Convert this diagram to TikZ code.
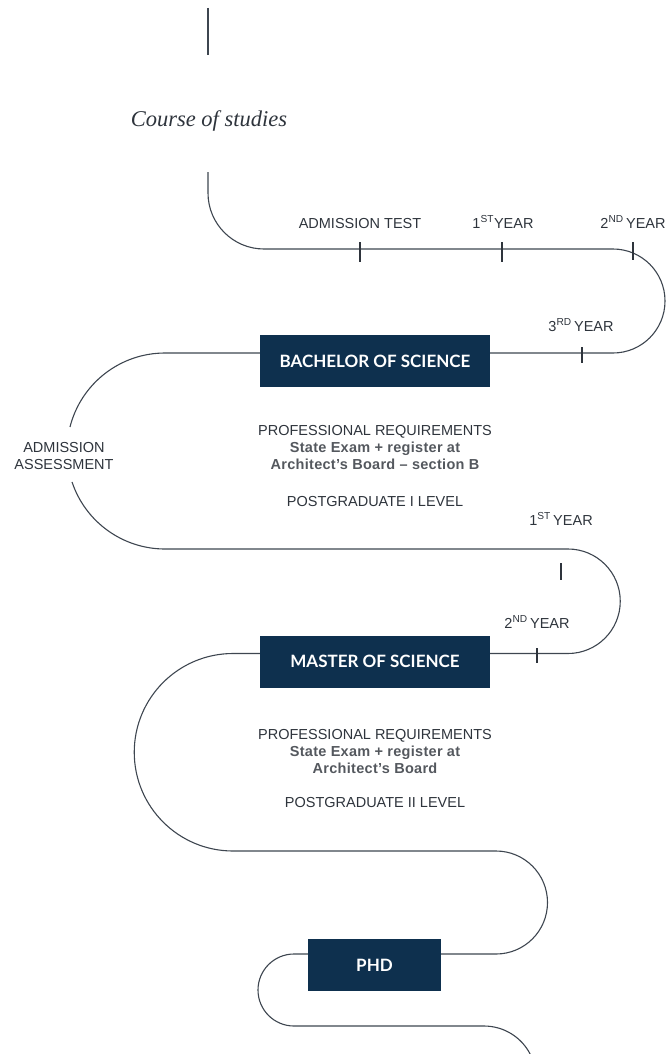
\documentclass[tikz,border=0pt]{standalone}
\usepackage{fontspec}
\setmainfont{Liberation Sans}
\newfontfamily\titlefont{Liberation Serif}
\newfontfamily\boxfont{Lato}
\newfontfamily\reqfont[LetterSpace=2]{Liberation Sans}
\usetikzlibrary{positioning}
\definecolor{pathgray}{RGB}{62,70,80}
\definecolor{boxnavy}{RGB}{14,48,78}
\definecolor{labelgray}{RGB}{46,52,60}
\definecolor{reqgray}{RGB}{84,88,94}

\begin{document}
\begin{tikzpicture}[x=1pt,y=-1pt,
  snake/.style={pathgray,line width=1.1pt},
  tick/.style={labelgray,line width=1.3pt},
  degree/.style={fill=boxnavy,text=white,minimum height=52pt,inner sep=0pt,font=\boxfont\bfseries\fontsize{17}{20}\selectfont},
  yearlabel/.style={text=labelgray,anchor=base,inner sep=0pt,font=\fontsize{14.5}{17}\selectfont},
  reqtext/.style={text=labelgray,align=center,inner sep=0pt,font=\fontsize{14.5}{17}\selectfont}]
\useasboundingbox (0,0) rectangle (665,1054);
% degrees
\node[degree,minimum width=230pt] (bsc) at (375,361) {BACHELOR OF SCIENCE};
\node[degree,minimum width=230pt] (msc) at (375,661.5) {MASTER OF SCIENCE};
\node[degree,minimum width=133pt] (phd) at (374.5,965) {PHD};
% title
\coordinate (top) at (208,8);
\coordinate (topend) at (208,55);
\draw[snake] (top) -- (topend);
\node[text=labelgray,anchor=base,inner sep=0pt,font=\titlefont\itshape\fontsize{22.5}{26}\selectfont] (title) at (209,126) {Course of studies};
% serpentine path
\coordinate (start) at (208,172);
\draw[snake] (start) -- (208,193) arc[start angle=180,end angle=270,radius=56pt] -- (613,249)
  arc[start angle=90,end angle=-90,radius=52pt] -- (bsc.east |- 0,353);
\draw[snake] (bsc.west |- 0,353) -- (165,353) arc[start angle=90,end angle=165.8,radius=98pt];
\draw[snake] (165,451) ++(198.4:98pt) arc[start angle=198.4,end angle=270,radius=98pt] -- (568,549)
  arc[start angle=90,end angle=-90,radius=52.25pt] -- (msc.east |- 0,653.5);
\draw[snake] (msc.west |- 0,653.5) -- (233,653.5) arc[start angle=90,end angle=270,radius=98.75pt] -- (496,851)
  arc[start angle=90,end angle=-90,radius=51.5pt] -- (phd.east |- 0,954);
\draw[snake] (phd.west |- 0,954) -- (294,954) arc[start angle=90,end angle=270,radius=36pt] -- (484,1026)
  arc[start angle=90,end angle=27,radius=52pt];
% ticks
\foreach \x/\ya/\yb in {360/242/262,502/242/262,633/242/260,582/347/363,561/563/580,537/648/663}
  {\draw[tick] (\x,\ya) -- (\x,\yb);}
% year labels
\node[yearlabel] (admtest) at (360,228) {ADMISSION TEST};
\node[yearlabel] (bscyr1) at (503,228) {1\textsuperscript{ST}YEAR};
\node[yearlabel] (bscyr2) at (633,228) {2\textsuperscript{ND}\,YEAR};
\node[yearlabel] (bscyr3) at (581,331) {3\textsuperscript{RD}\,YEAR};
\node[yearlabel] (mscyr1) at (561,525) {1\textsuperscript{ST}\,YEAR};
\node[yearlabel] (mscyr2) at (537,628) {2\textsuperscript{ND}\,YEAR};
\node[reqtext] (admass) at (64,456) {ADMISSION\\ASSESSMENT};
% requirements
\node[reqtext] (bscreq) at (375,448) {PROFESSIONAL REQUIREMENTS\\
  {\reqfont\bfseries\color{reqgray}State Exam + register at}\\
  {\reqfont\bfseries\color{reqgray}Architect’s Board – section B}};
\node[reqtext] (bsclevel) at (375,502) {POSTGRADUATE I LEVEL};
\node[reqtext] (mscreq) at (375,751) {PROFESSIONAL REQUIREMENTS\\
  {\reqfont\bfseries\color{reqgray}State Exam + register at}\\
  {\reqfont\bfseries\color{reqgray}Architect’s Board}};
\node[reqtext] (msclevel) at (375,802) {POSTGRADUATE II LEVEL};
\end{tikzpicture}
\end{document}
